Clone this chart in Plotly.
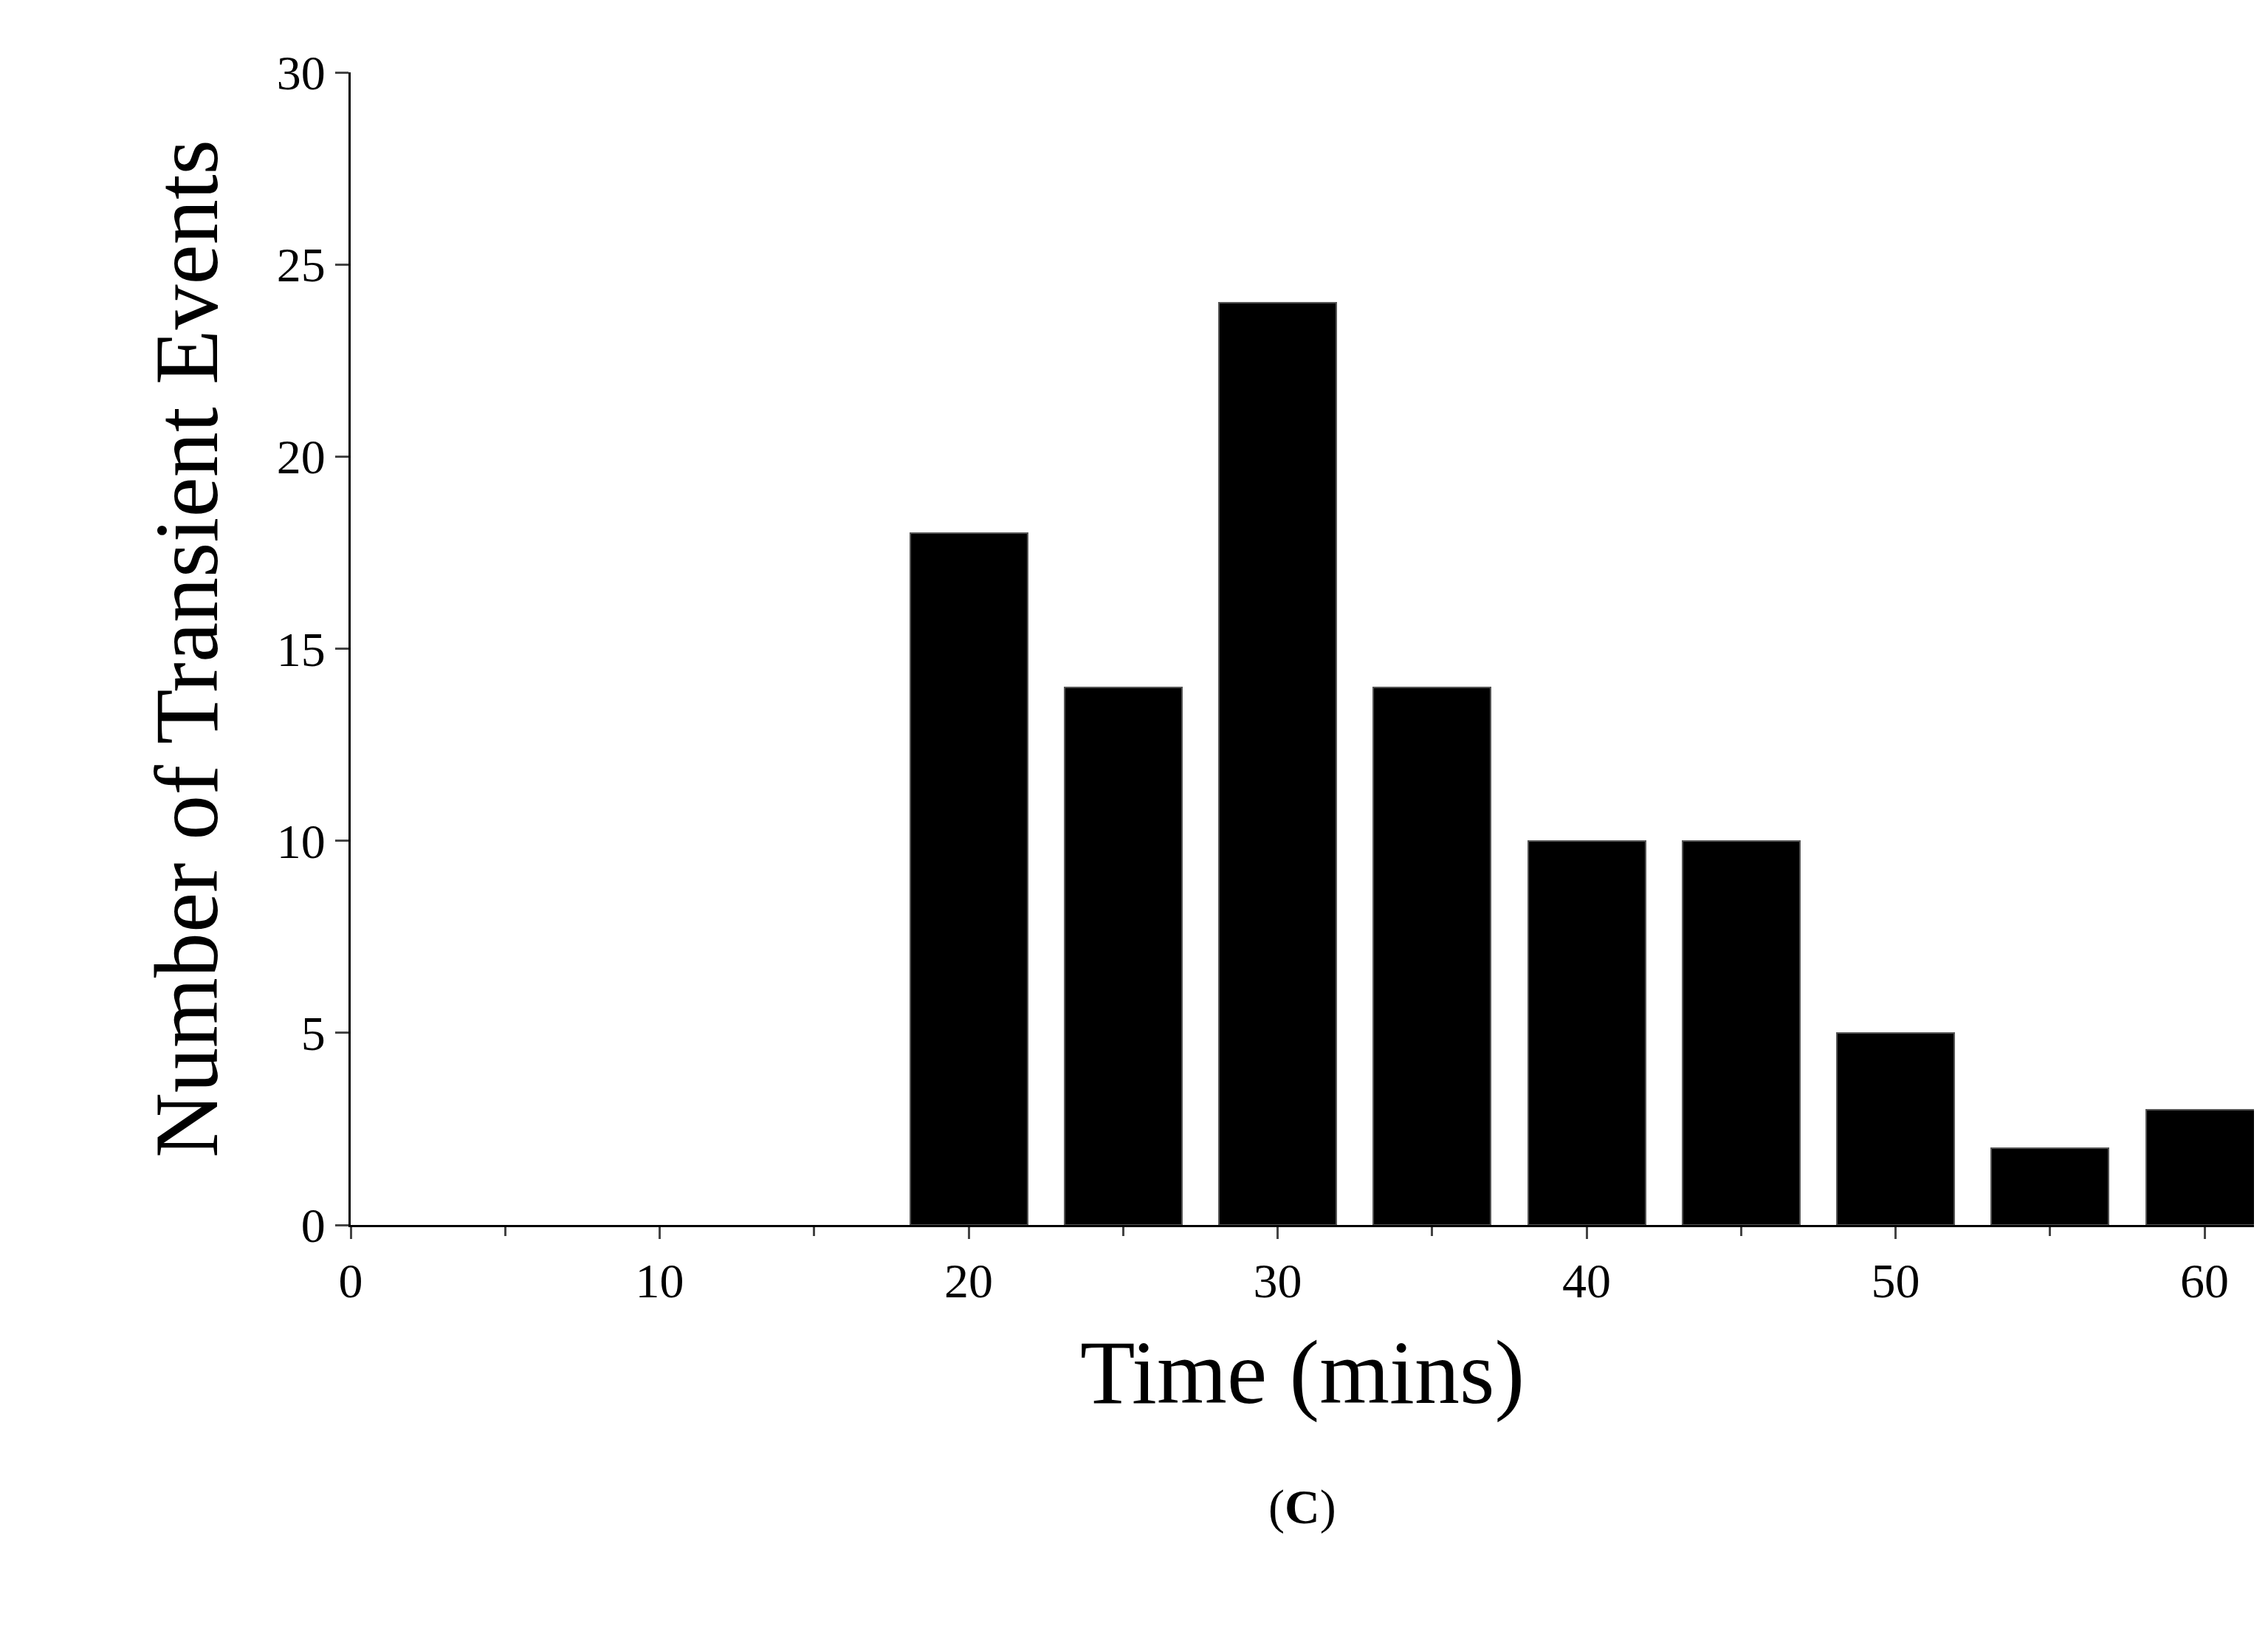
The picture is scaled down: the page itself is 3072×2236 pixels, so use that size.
import plotly.graph_objects as go

times = [20, 25, 30, 35, 40, 45, 50, 55, 60]
counts = [18, 14, 24, 14, 10, 10, 5, 2, 3]
x_ticks = [0, 10, 20, 30, 40, 50, 60]
y_ticks = [0, 5, 10, 15, 20, 25, 30]

fig = go.Figure(go.Bar(x=times, y=counts, width=3.8, marker=dict(color="black", line=dict(color="#555", width=2))))
font = "Liberation Serif"
fig.update_layout(
    width=3072, height=2236, plot_bgcolor="white", paper_bgcolor="white",
    margin=dict(l=467, r=27, t=90, b=585), showlegend=False,
    font=dict(family=font, color="black"),
    bargap=0,
)
fig.update_xaxes(range=[0, 61.6], tickvals=x_ticks, ticks="outside", ticklen=16, tickwidth=3,
                 showline=True, linewidth=3, linecolor="black", showgrid=False, zeroline=False,
                 tickfont=dict(size=66, family=font),
                 minor=dict(tickvals=[5, 15, 25, 35, 45, 55], ticks="outside", ticklen=12, tickwidth=3),
                 title=dict(text="Time (mins)", font=dict(size=122, family=font), standoff=45))
fig.update_yaxes(range=[0, 30], tickvals=y_ticks, ticks="outside", ticklen=18, tickwidth=3,
                 showline=True, linewidth=3, linecolor="black", showgrid=False, zeroline=False,
                 tickfont=dict(size=66, family=font),
                 title=dict(text="Number of Transient Events", font=dict(size=122, family=font), standoff=40))
fig.add_annotation(text="(<b>C</b>)", x=0.5, xref="paper", y=-0.27, yref="paper", showarrow=False,
                   font=dict(size=66, family=font))
fig.write_html("out.html")
